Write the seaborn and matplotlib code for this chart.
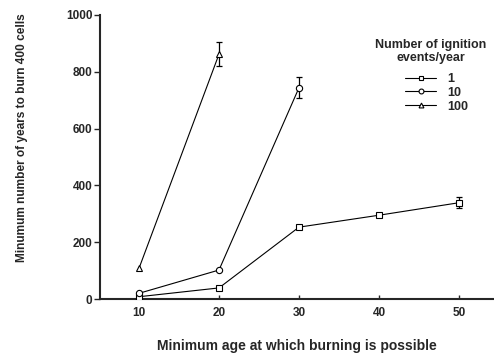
import matplotlib
matplotlib.use("Agg")
import matplotlib.pyplot as plt
import seaborn as sns
import pandas as pd
import numpy as np

# Data
ages_1 = [10, 20, 30, 40, 50]
years_1 = [8, 39, 253, 295, 339]
err_1 = [0, 0, 0, 0, 19]

ages_10 = [10, 20, 30]
years_10 = [20, 102, 744]
err_10 = [0, 0, 38]

ages_100 = [10, 20]
years_100 = [108, 862]
err_100 = [0, 43]

series_labels = ["1", "10", "100"]
x_ticks = [10, 20, 30, 40, 50]
y_ticks = [0, 200, 400, 600, 800, 1000]

sns.set_theme(style="ticks")
plt.rcParams["font.family"] = ["Liberation Sans", "DejaVu Sans"]
plt.rcParams["font.weight"] = "bold"

df = pd.concat([
    pd.DataFrame({"age": ages_1, "years": years_1, "err": err_1, "n": series_labels[0]}),
    pd.DataFrame({"age": ages_10, "years": years_10, "err": err_10, "n": series_labels[1]}),
    pd.DataFrame({"age": ages_100, "years": years_100, "err": err_100, "n": series_labels[2]}),
], ignore_index=True)

fig = plt.figure(figsize=(4.94, 3.62), dpi=100)
ax = fig.add_axes([100/494, 63/362, 393/494, 284/362])

markers = {"1": "s", "10": "o", "100": "^"}

# error bars (only where non-zero)
for lab in series_labels:
    sub = df[(df["n"] == lab) & (df["err"] > 0)]
    ax.errorbar(sub["age"], sub["years"], yerr=sub["err"], fmt="none",
                ecolor="black", elinewidth=0.9, capsize=2.5, capthick=0.9, zorder=1)

sns.lineplot(data=df, x="age", y="years", hue="n", style="n",
             markers=markers, dashes=False,
             palette={l: "black" for l in series_labels},
             markerfacecolor="white", markeredgecolor="black", markeredgewidth=0.8,
             markersize=4.5, linewidth=0.8, ax=ax, zorder=3, legend=True)

ax.set_xlim(5.125, 54.25)
ax.set_ylim(0, 1000)
ax.set_xticks(x_ticks)
ax.set_yticks(y_ticks)
ax.tick_params(axis="x", direction="in", length=3, width=1, labelsize=8.5, pad=6)
ax.tick_params(axis="y", direction="out", length=4, width=1, labelsize=8.5, pad=1.5)
for lbl in ax.get_xticklabels() + ax.get_yticklabels():
    lbl.set_fontweight("bold")
for s in ["top", "right"]:
    ax.spines[s].set_visible(False)
for s in ["left", "bottom"]:
    ax.spines[s].set_linewidth(1.5)

ax.set_xlabel("Minimum age at which burning is possible", fontsize=10,
              fontweight="bold", labelpad=14)
ax.set_ylabel("Minumum number of years to burn 400 cells", fontsize=8.55,
              fontweight="bold")
ax.yaxis.set_label_coords(-0.183, 0.569)

handles, labels = ax.get_legend_handles_labels()
for h in handles:
    h.set_markersize(3.5)
leg = ax.legend(handles, labels, loc="upper left", bbox_to_anchor=(0.776, 0.796),
                frameon=False, fontsize=9, borderpad=0, borderaxespad=0,
                handlelength=2.5, handletextpad=0.9, labelspacing=0.15)
for t in leg.get_texts():
    t.set_fontweight("bold")

ax.text(0.842, 0.871, "Number of ignition\nevents/year", transform=ax.transAxes,
        ha="center", va="center", fontsize=9, fontweight="bold",
        linespacing=1.15, multialignment="center")

fig.savefig("out.png", dpi=100)
